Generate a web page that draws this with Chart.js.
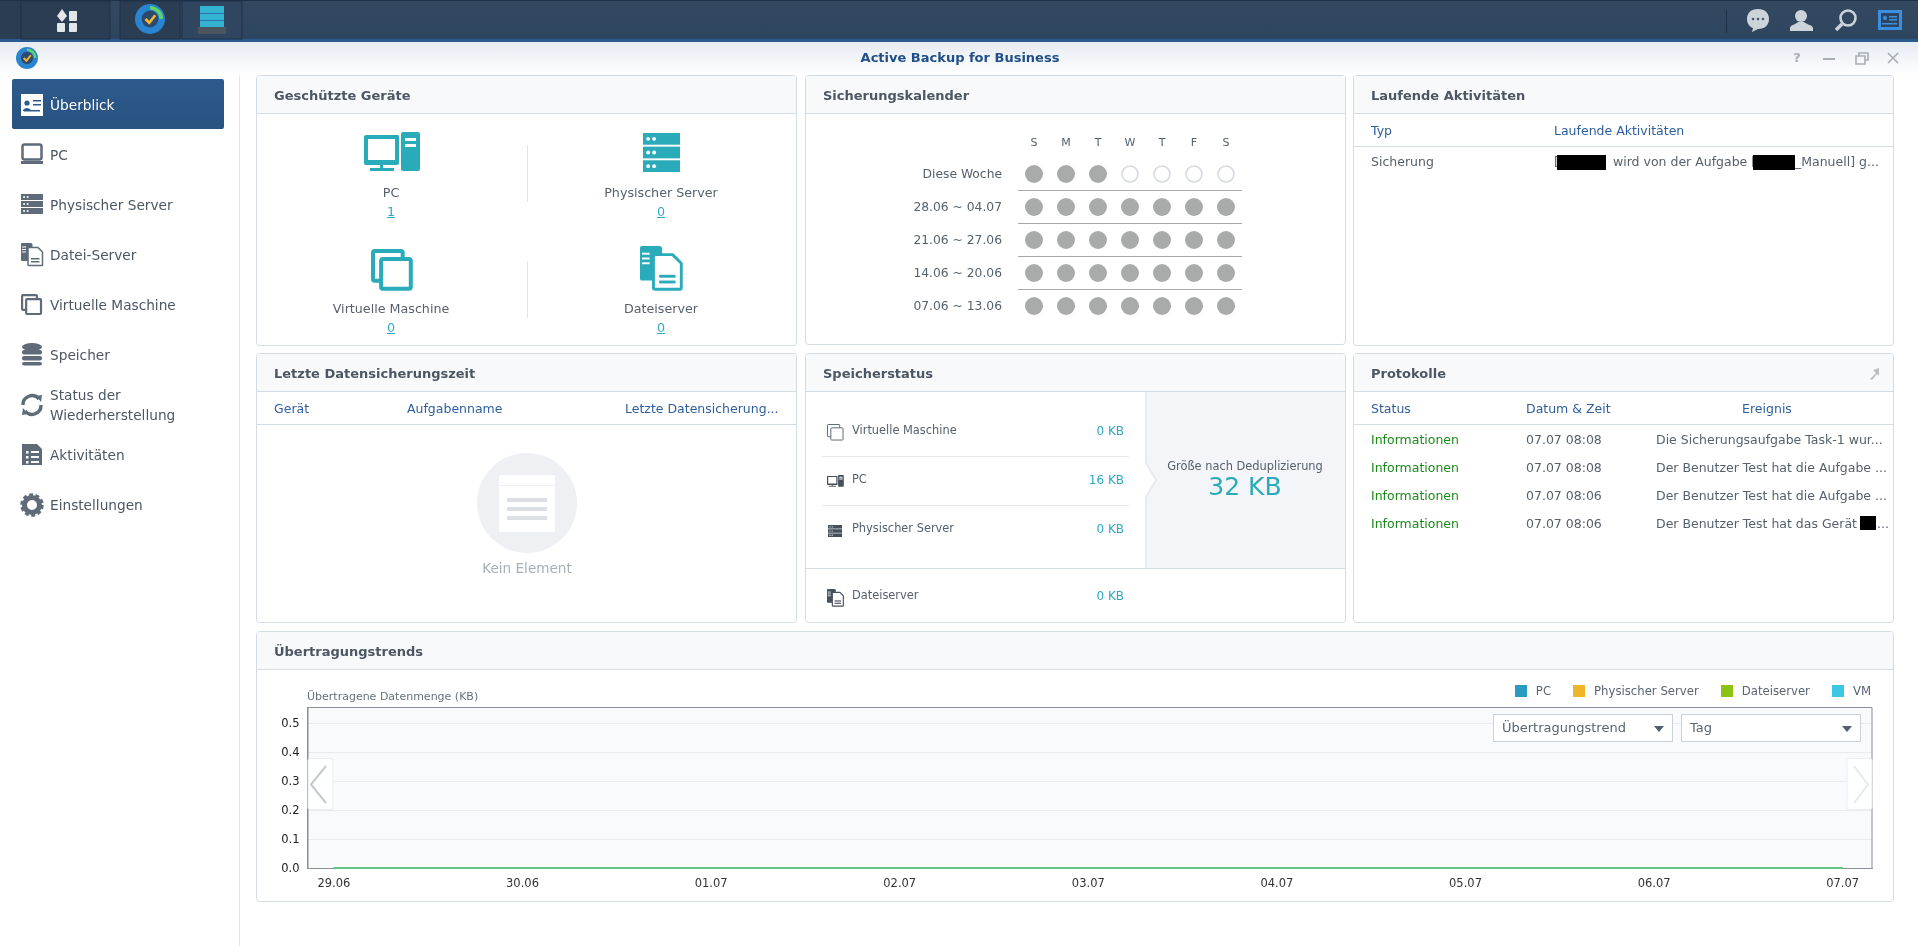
<!DOCTYPE html>
<html lang="de">
<head>
<meta charset="utf-8">
<title>Active Backup for Business</title>
<script src="https://cdn.jsdelivr.net/npm/chart.js@4"></script>
<style>
  html, body { margin: 0; padding: 0; width: 1918px; height: 946px; overflow: hidden; background: #fff; }
  body { font-family: "DejaVu Sans", Verdana, sans-serif; position: relative; }
  #art, #overlay { position: absolute; left: 0; top: 0; }
  .t { position: absolute; white-space: pre; line-height: 16px; height: 16px; }
  #chartBox { position: absolute; left: 257px; top: 670px; width: 1635px; height: 230px; }
  #legend { position: absolute; right: 47px; top: 683px; display: flex; gap: 22px; font-size: 11.7px; color: #5a6570; line-height: 16px; }
  #legend div { display: flex; align-items: center; gap: 9px; }
  #legend i { display: block; width: 12px; height: 12px; }
</style>
</head>
<body>
<svg id="art" width="1918" height="946" xmlns="http://www.w3.org/2000/svg"></svg>
<div id="chartBox"><canvas id="trendChart" width="1635" height="230"></canvas></div>
<svg id="overlay" width="1918" height="946" xmlns="http://www.w3.org/2000/svg"></svg>
<div id="legend"></div>
<script>
// Chart data
const dayLabels = ['29.06', '30.06', '01.07', '02.07', '03.07', '04.07', '05.07', '06.07', '07.07'];
const pcValues = [0, 0, 0, 0, 0, 0, 0, 0, 0];
const serverValues = [0, 0, 0, 0, 0, 0, 0, 0, 0];
const fileServerValues = [0, 0, 0, 0, 0, 0, 0, 0, 0];
const vmValues = [0, 0, 0, 0, 0, 0, 0, 0, 0];
const yTicks = [0, 0.1, 0.2, 0.3, 0.4, 0.5];

const seriesNames = ['PC', 'Physischer Server', 'Dateiserver', 'VM'];
const seriesColors = ['#2a9bc0', '#f0b429', '#8cc210', '#3cc8e4'];

// Calendar and table content
const weekDays = ['S', 'M', 'T', 'W', 'T', 'F', 'S'];
const weekLabels = ['Diese Woche', '28.06 ~ 04.07', '21.06 ~ 27.06', '14.06 ~ 20.06', '07.06 ~ 13.06'];
const doneThisWeek = 3;
const logTimes = ['07.07 08:08', '07.07 08:08', '07.07 08:06', '07.07 08:06'];
const logEvents = ['Die Sicherungsaufgabe Task-1 wur...', 'Der Benutzer Test hat die Aufgabe ...', 'Der Benutzer Test hat die Aufgabe ...', 'Der Benutzer Test hat das Gerät'];

const TEAL = '#2aabb9';
const GREY_ICON = '#5f6b78';
const HEAD_BLUE = '#2d5f9e';
const TEXT = '#56616c';
const BODY_SIZE = 12.5;

const art = document.getElementById('art');
let artHtml = `<defs>
  <linearGradient id="barG" x1="0" y1="0" x2="0" y2="1"><stop offset="0" stop-color="#34495f"/><stop offset="1" stop-color="#2d4560"/></linearGradient>
  <linearGradient id="titleG" x1="0" y1="0" x2="0" y2="1"><stop offset="0" stop-color="#e6ebf2"/><stop offset="1" stop-color="#ffffff"/></linearGradient>
  <linearGradient id="selG" x1="0" y1="0" x2="0" y2="1"><stop offset="0" stop-color="#2d5a8e"/><stop offset="1" stop-color="#28527f"/></linearGradient>
</defs>`;

function draw(markup) {
  artHtml += markup;
}

function rect(x, y, w, h, fill, extra = '') {
  draw(`<rect x="${x}" y="${y}" width="${w}" height="${h}" fill="${fill}" ${extra}/>`);
}

function hline(x1, x2, y, color) {
  rect(x1, y, x2 - x1, 1, color);
}

// Text positioned by its vertical middle
function text(str, x, y, size, color, opts = {}) {
  const el = document.createElement('div');
  el.className = 't';
  el.textContent = str;
  el.style.top = (y - 8) + 'px';
  el.style.fontSize = size + 'px';
  el.style.color = color;
  if (opts.bold) el.style.fontWeight = 'bold';
  if (opts.align === 'center') {
    el.style.left = (x - 300) + 'px';
    el.style.width = '600px';
    el.style.textAlign = 'center';
  } else if (opts.align === 'right') {
    el.style.left = (x - 600) + 'px';
    el.style.width = '600px';
    el.style.textAlign = 'right';
  } else {
    el.style.left = x + 'px';
  }
  if (opts.underline) el.style.textDecoration = 'underline';
  document.body.appendChild(el);
}

function panel(x, y, w, h, title, headH) {
  rect(x + 0.5, y + 0.5, w, h, '#fff', 'rx="3" stroke="#d3dbe5"');
  draw(`<path d="M${x + 1} ${y + headH} V${y + 3} Q${x + 1} ${y + 1} ${x + 3} ${y + 1} H${x + w - 2} Q${x + w} ${y + 1} ${x + w} ${y + 3} V${y + headH} Z" fill="#f8f9fb"/>`);
  hline(x + 1, x + w, y + headH, '#d3dbe5');
  text(title, x + 18, y + 21, 13, '#4c5763', { bold: true });
}

// Small icon shapes, in page coordinates
function iconPc(x, y, s, c) {
  const u = (n) => n * s;
  draw(`<g transform="translate(${x} ${y})" fill="${c}">
    <path fill-rule="evenodd" d="M${u(2)} ${u(3)}H${u(34)}Q${u(35)} ${u(3)} ${u(35)} ${u(5)}V${u(31)}Q${u(35)} ${u(33)} ${u(33)} ${u(33)}H${u(2)}Q0 ${u(33)} 0 ${u(31)}V${u(5)}Q0 ${u(3)} ${u(2)} ${u(3)}Z M${u(4)} ${u(7)}V${u(28)}H${u(31)}V${u(7)}Z"/>
    <rect x="${u(16)}" y="${u(33)}" width="${u(3)}" height="${u(4)}"/><rect x="${u(6)}" y="${u(36)}" width="${u(24)}" height="${u(3)}"/>
    <path fill-rule="evenodd" d="M${u(39)} ${u(0)}H${u(54)}Q${u(56)} 0 ${u(56)} ${u(2)}V${u(37)}Q${u(56)} ${u(39)} ${u(54)} ${u(39)}H${u(39)}Q${u(37)} ${u(39)} ${u(37)} ${u(37)}V${u(2)}Q${u(37)} 0 ${u(39)} 0Z M${u(41)} ${u(6)}V${u(9)}H${u(52)}V${u(6)}Z M${u(41)} ${u(12)}V${u(15)}H${u(52)}V${u(12)}Z"/>
  </g>`);
}

function iconServer(x, y, w, h, c, dot) {
  const rowH = h * 0.3;
  for (let i = 0; i < 3; i++) {
    const ry = y + i * (h - rowH) / 2;
    rect(x, ry, w, rowH, c);
    draw(`<circle cx="${x + w * 0.14}" cy="${ry + rowH / 2}" r="${h * 0.05}" fill="${dot}"/><circle cx="${x + w * 0.3}" cy="${ry + rowH / 2}" r="${h * 0.05}" fill="${dot}"/>`);
  }
}

function iconVm(x, y, s, c, sw) {
  const bw = 33 * s;
  draw(`<rect x="${x + sw / 2}" y="${y + sw / 2}" width="${bw}" height="${bw}" rx="${2 * s}" fill="none" stroke="${c}" stroke-width="${sw}"/>
        <rect x="${x + 9 * s + sw / 2}" y="${y + 9 * s + sw / 2}" width="${bw}" height="${bw}" rx="${2 * s}" fill="#fff" stroke="${c}" stroke-width="${sw}"/>`);
}

function iconFile(x, y, s, c) {
  const u = (n) => n * s;
  draw(`<g transform="translate(${x} ${y})">
    <path d="M${u(2)} 0H${u(20)}Q${u(23)} 0 ${u(23)} ${u(3)}V${u(36)}H${u(2)}Q0 ${u(36)} 0 ${u(34)}V${u(2)}Q0 0 ${u(2)} 0Z" fill="${c}"/>
    <rect x="${u(2)}" y="${u(7)}" width="${u(8)}" height="${u(2)}" fill="#fff"/><rect x="${u(2)}" y="${u(12)}" width="${u(8)}" height="${u(2)}" fill="#fff"/><rect x="${u(2)}" y="${u(17)}" width="${u(8)}" height="${u(2)}" fill="#fff"/>
    <path d="M${u(15)} ${u(9)}H${u(34)}L${u(43)} ${u(18)}V${u(44)}Q${u(43)} ${u(45)} ${u(42)} ${u(45)}H${u(16)}Q${u(14)} ${u(45)} ${u(14)} ${u(44)}V${u(10)}Z" fill="#fff" stroke="${c}" stroke-width="${u(3)}"/>
    <rect x="${u(20)}" y="${u(30)}" width="${u(17)}" height="${u(3)}" fill="${c}"/><rect x="${u(20)}" y="${u(36)}" width="${u(17)}" height="${u(3)}" fill="${c}"/>
  </g>`);
}

// Top task bar
rect(0, 0, 1918, 39, 'url(#barG)');
rect(0, 0, 1918, 1, '#1f3147');
rect(0, 39, 1918, 3, '#2a5a8f');
rect(0, 1, 21, 38, '#2a3d53');
rect(21, 1, 89, 38, '#2a3d53', 'stroke="#1f3147"');
rect(120, 1, 60, 38, '#2a3d53', 'stroke="#1f3147"');
rect(182, 1, 60, 38, '#2f4560', 'stroke="#1f3147"');
draw(`<path d="M62 9 L67 16 L62 22 L57 16Z" fill="#e4e7ea"/>`);
rect(69, 11, 8, 10, '#e4e7ea', 'rx="1"');
rect(57, 23, 8, 9, '#e4e7ea', 'rx="1"');
rect(69, 23, 8, 9, '#e4e7ea', 'rx="1"');

function appLogo(cx, cy, r) {
  draw(`<circle cx="${cx}" cy="${cy}" r="${r}" fill="#2a85d0"/>
    <path d="M${cx} ${cy - r * 0.75} A${r * 0.75} ${r * 0.75} 0 0 1 ${cx + r * 0.75} ${cy}" fill="none" stroke="#62d36a" stroke-width="${r * 0.24}"/>
    <circle cx="${cx}" cy="${cy}" r="${r * 0.56}" fill="#2c4a70"/>
    <path d="M${cx - r * 0.3} ${cy} L${cx - r * 0.05} ${cy + r * 0.25} L${cx + r * 0.35} ${cy - r * 0.25}" fill="none" stroke="#f2b632" stroke-width="${r * 0.18}"/>`);
}
appLogo(150, 19, 15);
rect(200, 6, 24, 21, '#33b3d1');
hline(200, 224, 13, '#2b6fb3');
hline(200, 224, 20, '#2b6fb3');
rect(198, 27, 28, 7, '#4b5560');

// Task bar icons on the right
rect(1726, 10, 1, 23, '#1f3147');
draw(`<path d="M1758 9 C1751 9 1747 13 1747 19 C1747 24 1750 27 1753 28 L1752 32 L1758 29 C1765 29 1769 25 1769 19 C1769 13 1765 9 1758 9Z" fill="#ccd3d9"/>`);
[1753, 1758, 1763].forEach((cx) => draw(`<circle cx="${cx}" cy="19" r="1.3" fill="#44586e"/>`));
draw(`<circle cx="1801" cy="16" r="6" fill="#ccd3d9"/><path d="M1790 31 V28 C1790 25 1797 24 1798 22 H1804 C1805 24 1813 25 1813 28 V31Z" fill="#ccd3d9"/>`);
draw(`<circle cx="1848" cy="18" r="7.5" fill="none" stroke="#ccd3d9" stroke-width="2.6"/><path d="M1842 24 L1836 30" stroke="#ccd3d9" stroke-width="3.5"/>`);
rect(1878, 10, 24, 20, '#3a8fe0');
rect(1881, 13, 18, 14, '#2d4560');
draw(`<circle cx="1885" cy="18" r="2" fill="#3a8fe0"/>`);
rect(1889, 16, 8, 1.5, '#3a8fe0');
rect(1889, 19, 8, 1.5, '#3a8fe0');
rect(1882, 23, 15, 1.5, '#3a8fe0');

// Window title bar
rect(0, 42, 1918, 33, 'url(#titleG)');
appLogo(27, 58, 11);
text('Active Backup for Business', 960, 58, 13, '#1f4f86', { align: 'center', bold: true });
text('?', 1797, 58, 13, '#a8aeb5', { align: 'center', bold: true });
rect(1823, 58, 12, 2, '#a8aeb5');
draw(`<path d="M1856 56 h9 v8 h-9Z M1859 56 v-3 h9 v7 h-3" fill="none" stroke="#a8aeb5" stroke-width="1.6"/>`);
draw(`<path d="M1888 53 L1898 63 M1898 53 L1888 63" stroke="#a8aeb5" stroke-width="1.6"/>`);

// Sidebar
rect(239, 75, 1, 871, '#e3e6ea');
rect(12, 79, 212, 50, 'url(#selG)', 'rx="2"');
rect(21, 94, 22, 22, '#fff');
draw(`<circle cx="27" cy="103" r="2.6" fill="#2d5a8e"/><path d="M23 110 q4 -4 8 0 v1 h-8Z" fill="#2d5a8e"/>`);
rect(33, 100, 8, 1.5, '#2d5a8e');
rect(33, 104, 8, 1.5, '#2d5a8e');
rect(24, 110, 16, 1.5, '#2d5a8e');

const sideItems = [['Überblick', 105], ['PC', 155], ['Physischer Server', 205], ['Datei-Server', 255], ['Virtuelle Maschine', 305], ['Speicher', 355], ['Status der', 395], ['Wiederherstellung', 415], ['Aktivitäten', 455], ['Einstellungen', 505]];
sideItems.forEach(([label, y], i) => text(label, 50, y, 13.7, i === 0 ? '#fff' : '#4c5763'));

// PC
draw(`<rect x="22.5" y="144.5" width="19" height="15" rx="2" fill="#fff" stroke="${GREY_ICON}" stroke-width="2.5"/>`);
rect(21, 161, 22, 3, GREY_ICON);
// Physical server
iconServer(21, 194, 22, 20, GREY_ICON, '#fff');
// File server
iconFile(21, 243, 0.5, GREY_ICON);
// Virtual machine
iconVm(21, 294, 0.45, GREY_ICON, 2.2);
// Storage
draw(`<ellipse cx="32" cy="347" rx="10" ry="4" fill="${GREY_ICON}"/>`);
rect(22, 350, 20, 4.5, GREY_ICON, 'rx="2"');
rect(22, 356, 20, 4.5, GREY_ICON, 'rx="2"');
rect(22, 362, 20, 3.5, GREY_ICON, 'rx="2"');
// Restore status
draw(`<path d="M23 405 A9 9 0 0 1 39 399 M41 405 A9 9 0 0 1 25 411" fill="none" stroke="${GREY_ICON}" stroke-width="3.4"/>
      <path d="M36 396 L42 395 L41 402Z M28 414 L22 415 L23 408Z" fill="${GREY_ICON}"/>`);
// Activities
draw(`<path d="M22 444 H37 L42 449 V465 H22Z" fill="${GREY_ICON}"/>`);
[451, 456, 461].forEach((y) => { rect(26, y, 2.5, 2.5, '#fff'); rect(31, y, 8, 2, '#fff'); });
// Settings
draw(`<circle cx="32" cy="505" r="7.5" fill="none" stroke="${GREY_ICON}" stroke-width="5"/><circle cx="32" cy="505" r="10.5" fill="none" stroke="${GREY_ICON}" stroke-width="2.5" stroke-dasharray="4 2.6"/>`);

// Protected devices panel
panel(256, 75, 540, 270, 'Geschützte Geräte', 38);
iconPc(364, 132, 1, TEAL);
iconServer(643, 133, 37, 39, TEAL, '#fff');
iconVm(371, 249, 0.9, TEAL, 4);
iconFile(640, 246, 0.96, TEAL);
rect(527, 145, 1, 57, '#e1e5ea');
rect(527, 261, 1, 57, '#e1e5ea');
[['PC', '1', 391, 193], ['Physischer Server', '0', 661, 193], ['Virtuelle Maschine', '0', 391, 309], ['Dateiserver', '0', 661, 309]].forEach(([label, count, x, y]) => {
  text(label, x, y, 12.7, TEXT, { align: 'center' });
  text(count, x, y + 19, 12.7, '#2ea7c9', { align: 'center', underline: true });
});

// Backup calendar panel
panel(805, 75, 540, 269, 'Sicherungskalender', 38);
const dayColumns = [1034, 1066, 1098, 1130, 1162, 1194, 1226];
const weekRows = [174, 207, 240, 273, 306];
weekDays.forEach((d, i) => text(d, dayColumns[i], 143, 11, TEXT, { align: 'center' }));
weekRows.forEach((y, row) => {
  text(weekLabels[row], 1002, y, 12.3, TEXT, { align: 'right' });
  dayColumns.forEach((x, col) => {
    if (row === 0 && col >= doneThisWeek) {
      draw(`<circle cx="${x}" cy="${y}" r="8" fill="#fff" stroke="#d5dae0" stroke-width="1.6"/>`);
    } else {
      draw(`<circle cx="${x}" cy="${y}" r="9" fill="#a9abab"/>`);
    }
  });
  if (row < weekRows.length - 1) hline(1018, 1242, y + 16, '#a9abab');
});

// Running activities panel
panel(1353, 75, 540, 270, 'Laufende Aktivitäten', 38);
text('Typ', 1371, 131, BODY_SIZE, HEAD_BLUE);
text('Laufende Aktivitäten', 1554, 131, BODY_SIZE, HEAD_BLUE);
hline(1354, 1893, 146, '#d3dbe5');
text('Sicherung', 1371, 162, BODY_SIZE, TEXT);
text('[', 1554, 162, BODY_SIZE, TEXT);
text('wird von der Aufgabe [', 1613, 162, BODY_SIZE, TEXT);
text('_Manuell] g...', 1795, 162, BODY_SIZE, TEXT);

// Last backup panel
panel(256, 353, 540, 269, 'Letzte Datensicherungszeit', 38);
text('Gerät', 274, 409, BODY_SIZE, HEAD_BLUE);
text('Aufgabenname', 407, 409, BODY_SIZE, HEAD_BLUE);
text('Letzte Datensicherung...', 625, 409, BODY_SIZE, HEAD_BLUE);
hline(257, 796, 424, '#d3dbe5');
draw(`<circle cx="527" cy="503" r="50" fill="#eef0f4"/>`);
rect(499, 475, 56, 57, '#fff', 'rx="2"');
rect(499, 485, 56, 1, '#eef0f4');
[498, 507, 516].forEach((y) => rect(507, y, 40, 4, '#dcdfe3'));
text('Kein Element', 527, 568, 13.6, '#a6afb8', { align: 'center' });

// Storage status panel
panel(805, 353, 540, 269, 'Speicherstatus', 38);
rect(1146, 392, 199, 176, '#f3f5f9');
rect(1145, 392, 2, 176, '#e6e9ee');
draw(`<path d="M1145 463 L1156 480 L1145 497Z" fill="#fff"/><path d="M1146 463 L1156 480 L1146 497" fill="none" stroke="#e6e9ee" stroke-width="2"/>`);
hline(806, 1345, 568, '#d3dbe5');
hline(822, 1129, 456, '#e3e6ea');
hline(822, 1129, 505, '#e3e6ea');
[['Virtuelle Maschine', '0 KB', 430], ['PC', '16 KB', 479], ['Physischer Server', '0 KB', 528], ['Dateiserver', '0 KB', 595]].forEach(([label, size, y]) => {
  text(label, 852, y, 11.4, TEXT);
  text(size, 1124, y + 1, 12, '#2ea7c9', { align: 'right' });
});
iconVm(827, 424, 0.37, GREY_ICON, 1);
iconPc(827, 475, 0.3, '#46505b');
iconServer(828, 525, 14, 12, '#46505b', '#fff');
iconFile(827, 589, 0.38, '#46505b');
text('Größe nach Deduplizierung', 1245, 466, 11.4, TEXT, { align: 'center' });
text('32 KB', 1245, 487, 25, TEAL, { align: 'center' });

// Logs panel
panel(1353, 353, 540, 269, 'Protokolle', 38);
draw(`<path d="M1870 379 L1876 373 L1873 370 L1879 368 V376 L1877 374 L1872 380Z" fill="#b9bec4"/>`);
text('Status', 1371, 409, BODY_SIZE, HEAD_BLUE);
text('Datum & Zeit', 1526, 409, BODY_SIZE, HEAD_BLUE);
text('Ereignis', 1767, 409, BODY_SIZE, HEAD_BLUE, { align: 'center' });
hline(1354, 1893, 424, '#d3dbe5');
logTimes.forEach((time, i) => {
  const y = 440 + i * 28;
  text('Informationen', 1371, y, BODY_SIZE, '#1a8a1a');
  text(time, 1526, y, BODY_SIZE, TEXT);
  text(logEvents[i], 1656, y, BODY_SIZE, TEXT);
});
text('...', 1877, 524, BODY_SIZE, TEXT);

// Transfer trend panel
panel(256, 631, 1637, 270, 'Übertragungstrends', 38);
art.innerHTML = artHtml;

// Controls floating over the plot
function dropdown(x, w, label) {
  text(label, x + 9, 728, 13, '#5a6570');
  return `<rect x="${x + 0.5}" y="714.5" width="${w}" height="27" fill="#fff" stroke="#c9d2dd"/>
    <path d="M${x + w - 18} 726 h10 l-5 6z" fill="#555e69"/>`;
}

function navButton(x, w, chevron, color) {
  return `<rect x="${x}" y="758.5" width="${w}" height="51" rx="2" fill="#fff" fill-opacity="0.85" stroke="#eceef2"/>
    <path d="${chevron}" fill="none" stroke="${color}" stroke-width="2"/>`;
}

document.getElementById('overlay').innerHTML =
  navButton(308, 25, 'M326 766 L311 784.5 L326 803', '#c5c9ce') +
  navButton(1847, 25, 'M1854 766 L1868 784.5 L1854 803', '#e6e8ec') +
  dropdown(1493, 179, 'Übertragungstrend') +
  dropdown(1681, 179, 'Tag');

// Redactions sit above the text, as in the reference
function cover(x, y, w, h) {
  const el = document.createElement('div');
  el.style.cssText = `position:absolute;left:${x}px;top:${y}px;width:${w}px;height:${h}px;background:#000`;
  document.body.appendChild(el);
}
cover(1557, 155, 49, 15);
cover(1753, 155, 42, 15);
cover(1860, 516, 16, 14);

// Legend, from the series lists
const legendEl = document.getElementById('legend');
seriesNames.forEach((name, i) => {
  const item = document.createElement('div');
  item.innerHTML = `<i style="background:${seriesColors[i]}"></i><span>${name}</span>`;
  legendEl.appendChild(item);
});

// Axis caption above the plot
text('Übertragene Datenmenge (KB)', 307, 697, 11, '#66707a');

// Plot background and frame
const plotFrame = {
  id: 'plotFrame',
  beforeDraw(chart) {
    const { ctx, chartArea: a } = chart;
    ctx.fillStyle = '#f9fafc';
    ctx.fillRect(a.left, a.top, a.width, a.height);
  },
  beforeDatasetsDraw(chart) {
    const { ctx, chartArea: a } = chart;
    ctx.save();
    ctx.strokeStyle = '#8a8f96';
    ctx.lineWidth = 1;
    ctx.beginPath();
    ctx.moveTo(a.left + 0.5, a.bottom);
    ctx.lineTo(a.left + 0.5, a.top + 0.5);
    ctx.lineTo(a.right - 0.5, a.top + 0.5);
    ctx.lineTo(a.right - 0.5, a.bottom);
    ctx.stroke();
    ctx.restore();
  },
};

const points = (values) => values.map((y, x) => ({ x, y }));

const ctx = document.getElementById('trendChart').getContext('2d');
new Chart(ctx, {
  type: 'line',
  data: {
    datasets: [
      // Lower order draws on top: the translucent VM line over the solid Dateiserver line
      { label: seriesNames[0], data: points(pcValues), order: 3, borderColor: seriesColors[0], backgroundColor: seriesColors[0] },
      { label: seriesNames[1], data: points(serverValues), order: 2, borderColor: seriesColors[1], backgroundColor: seriesColors[1] },
      { label: seriesNames[2], data: points(fileServerValues), order: 1, borderColor: seriesColors[2], backgroundColor: seriesColors[2] },
      { label: seriesNames[3], data: points(vmValues), order: 0, borderColor: seriesColors[3] + '8c', backgroundColor: seriesColors[3] },
    ].map((d) => ({ ...d, borderWidth: 2, pointRadius: 0, tension: 0, clip: false })),
  },
  options: {
    responsive: false,
    animation: false,
    layout: { padding: { top: 37, right: 19.5, left: 0, bottom: 0 } },
    plugins: { legend: { display: false }, tooltip: { enabled: false } },
    scales: {
      x: {
        type: 'linear',
        min: -0.14,
        max: 8.158,
        grid: { display: false },
        border: { color: '#8a8f96' },
        ticks: {
          color: '#333',
          font: { family: '"DejaVu Sans"', size: 11.5 },
          maxRotation: 0,
          autoSkip: false,
          padding: 1,
          callback: (v) => dayLabels[v],
        },
        afterBuildTicks(scale) { scale.ticks = dayLabels.map((_, value) => ({ value })); },
        afterFit(scale) { scale.height = 32; },
      },
      y: {
        min: 0,
        max: 0.556,
        grid: { color: '#e8ebef', drawTicks: false },
        border: { color: '#8a8f96' },
        ticks: { color: '#222', font: { family: '"DejaVu Sans"', size: 11.5 }, padding: 8, labelOffset: 1, callback: (v) => v.toFixed(1) },
        afterBuildTicks(scale) { scale.ticks = yTicks.map((value) => ({ value })); },
        afterFit(scale) { scale.width = 50.5; },
      },
    },
  },
  plugins: [plotFrame],
});
</script>
</body>
</html>
